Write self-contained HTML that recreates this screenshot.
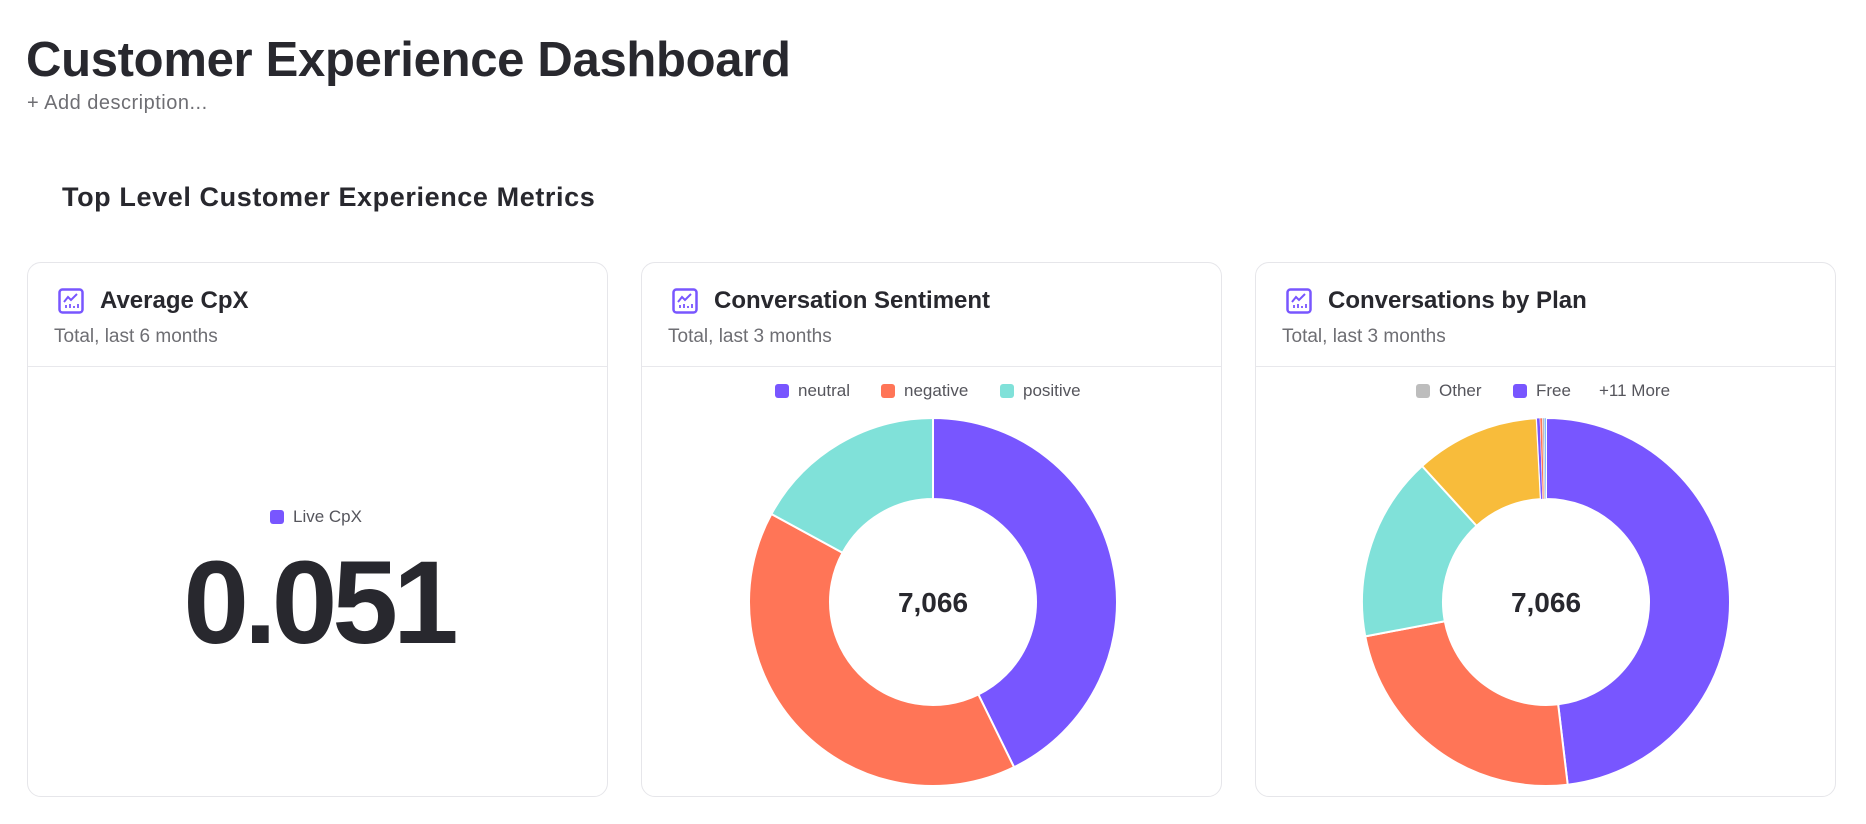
<!DOCTYPE html>
<html><head><meta charset="utf-8">
<style>
*{margin:0;padding:0;box-sizing:border-box}
body{width:1866px;height:824px;background:#fff;font-family:"Liberation Sans",sans-serif;color:#28282e;position:relative;overflow:hidden}
.abs{position:absolute;white-space:nowrap}
h1{position:absolute;left:26px;top:32px;font-size:49px;font-weight:bold;letter-spacing:-0.3px;line-height:56px}
.desc{left:27px;top:92px;font-size:20px;letter-spacing:0.5px;color:#6e6e73}
h2{position:absolute;left:62px;top:181px;font-size:27px;font-weight:bold;line-height:32px;letter-spacing:0.6px}
.card{position:absolute;top:262px;width:581px;height:535px;border:1px solid #e6e6ea;border-radius:14px;background:#fff}
.card .icon{position:absolute;left:30px;top:25px}
.card .title{position:absolute;top:24px;font-size:24px;font-weight:bold;line-height:28px}
.card .sub{position:absolute;left:26px;top:63px;font-size:19px;color:#6e6e73}
.card .div{position:absolute;left:0;right:0;top:103px;height:1px;background:#e8e8ec}
.leg{position:absolute;font-size:17px;color:#55555c;display:flex;align-items:center}
.sq{display:inline-block;width:14px;height:14px;border-radius:3px;margin-right:9px}
</style></head><body>
<h1>Customer Experience Dashboard</h1>
<div class="abs desc">+ Add description...</div>
<h2>Top Level Customer Experience Metrics</h2>

<div class="card" style="left:27px">
  <svg class="icon" width="26" height="26" viewBox="0 0 26 26"><rect x="1.5" y="1.5" width="23" height="23" rx="3" fill="none" stroke="#7856ff" stroke-width="2.5"/><path d="M6 14 L10 9 L13 12 L19 6" fill="none" stroke="#7856ff" stroke-width="2"/><path d="M8 20v-3M12 20v-4M16 20v-2M20 20v-4" stroke="#7856ff" stroke-width="1.8"/></svg>
  <div class="title" style="left:72px">Average CpX</div>
  <div class="sub">Total, last 6 months</div>
  <div class="div"></div>
  <div class="leg" style="left:242px;top:244px"><span class="sq" style="background:#7856ff"></span>Live CpX</div>
  <div class="abs" style="left:0;width:581px;text-align:center;top:272px;font-size:118px;font-weight:bold;letter-spacing:-5px;line-height:136px">0.051</div>
</div>

<div class="card" style="left:641px">
  <svg class="icon" width="26" height="26" viewBox="0 0 26 26"><rect x="1.5" y="1.5" width="23" height="23" rx="3" fill="none" stroke="#7856ff" stroke-width="2.5"/><path d="M6 14 L10 9 L13 12 L19 6" fill="none" stroke="#7856ff" stroke-width="2"/><path d="M8 20v-3M12 20v-4M16 20v-2M20 20v-4" stroke="#7856ff" stroke-width="1.8"/></svg>
  <div class="title" style="left:72px">Conversation Sentiment</div>
  <div class="sub">Total, last 3 months</div>
  <div class="div"></div>
  <div class="leg" style="left:133px;top:118px"><span class="sq" style="background:#7856ff"></span>neutral</div>
  <div class="leg" style="left:239px;top:118px"><span class="sq" style="background:#ff7557"></span>negative</div>
  <div class="leg" style="left:358px;top:118px"><span class="sq" style="background:#80e1d9"></span>positive</div>
  <svg id="d1" class="abs" style="left:0;top:0" width="581" height="535"></svg>
</div>

<div class="card" style="left:1255px">
  <svg class="icon" width="26" height="26" viewBox="0 0 26 26"><rect x="1.5" y="1.5" width="23" height="23" rx="3" fill="none" stroke="#7856ff" stroke-width="2.5"/><path d="M6 14 L10 9 L13 12 L19 6" fill="none" stroke="#7856ff" stroke-width="2"/><path d="M8 20v-3M12 20v-4M16 20v-2M20 20v-4" stroke="#7856ff" stroke-width="1.8"/></svg>
  <div class="title" style="left:72px">Conversations by Plan</div>
  <div class="sub">Total, last 3 months</div>
  <div class="div"></div>
  <div class="leg" style="left:160px;top:118px"><span class="sq" style="background:#bdbdbd"></span>Other</div>
  <div class="leg" style="left:257px;top:118px"><span class="sq" style="background:#7856ff"></span>Free</div>
  <div class="leg" style="left:343px;top:118px">+11 More</div>
  <svg id="d2" class="abs" style="left:0;top:0" width="581" height="535"></svg>
</div>

<script>
const sentimentLabels = ["neutral","negative","positive"];
const sentimentValues = [3020, 2840, 1206];
const sentimentColors = ["#7856ff","#ff7557","#80e1d9"];
const planLabels = ["Free","Plan B","Plan C","Plan D","Plan E","Plan F","Other","Plan G"];
const planValues = [3400, 1688, 1147, 774, 20, 15, 12, 10];
const planColors = ["#7856ff","#ff7557","#80e1d9","#f8bc3b","#7856ff","#ff7557","#bdbdbd","#5aa9ff"];
const NS="http://www.w3.org/2000/svg";
function pt(cx,cy,r,a){return [cx+r*Math.sin(a), cy-r*Math.cos(a)];}
function donut(svg, labels, values, colors, cx, cy, ro, ri){
  const total = values.reduce((a,b)=>a+b,0);
  let a0 = 0;
  values.forEach((v,i)=>{
    const a1 = a0 + v/total*2*Math.PI;
    const large = (a1-a0)>Math.PI?1:0;
    const p1=pt(cx,cy,ro,a0),p2=pt(cx,cy,ro,a1),p3=pt(cx,cy,ri,a1),p4=pt(cx,cy,ri,a0);
    const p=document.createElementNS(NS,"path");
    p.setAttribute("d",`M${p1[0]},${p1[1]}A${ro},${ro} 0 ${large} 1 ${p2[0]},${p2[1]}L${p3[0]},${p3[1]}A${ri},${ri} 0 ${large} 0 ${p4[0]},${p4[1]}Z`);
    p.setAttribute("fill",colors[i]);
    p.setAttribute("stroke","#fff");
    p.setAttribute("stroke-width", v/total>0.01?"2":"0.5");
    p.setAttribute("stroke-linejoin","round");
    
    
    svg.appendChild(p);
    a0 = a1;
  });
  const t=document.createElementNS(NS,"text");
  t.setAttribute("x",cx);t.setAttribute("y",cy+10);
  t.setAttribute("text-anchor","middle");
  t.setAttribute("font-family","Liberation Sans, sans-serif");
  t.setAttribute("font-size","28");t.setAttribute("font-weight","bold");t.setAttribute("fill","#28282e");
  t.textContent = total.toLocaleString("en-US");
  
  
  svg.appendChild(t);
}
donut(document.getElementById("d1"), sentimentLabels, sentimentValues, sentimentColors, 291, 339, 184, 103);
donut(document.getElementById("d2"), planLabels, planValues, planColors, 290, 339, 184, 103);
</script>
</body></html>
